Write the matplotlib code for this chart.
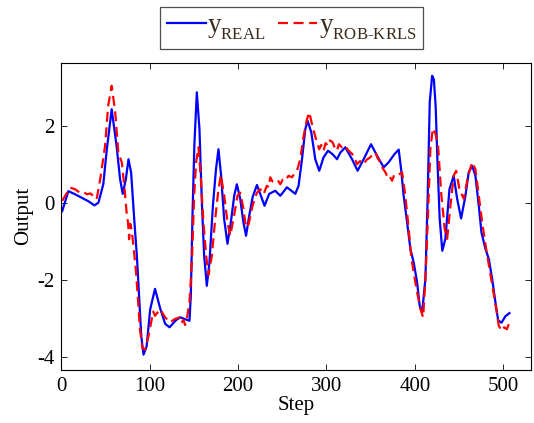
import matplotlib
matplotlib.use("Agg")
import matplotlib.pyplot as plt
import matplotlib._mathtext as _mt

plt.rcParams["font.family"] = ["Liberation Serif", "DejaVu Serif"]
plt.rcParams["mathtext.fontset"] = "custom"
plt.rcParams["mathtext.rm"] = "Liberation Serif"
plt.rcParams["mathtext.it"] = "Liberation Serif:italic"
plt.rcParams["axes.unicode_minus"] = False
# smaller, lower subscripts for the legend entries
_mt.SHRINK_FACTOR = 0.62
_mt.FontConstantsBase.sub1 = 0.55
_mt.FontConstantsBase.sub2 = 0.7

# Measured plant output
real_step = [1, 8, 15.5, 23, 30.5, 37.5, 42, 47.5, 51.5, 57, 62.5, 66.5, 69.5, 73,
             76, 79, 82.5, 85.5, 88, 90.5, 93, 96.5, 100.5, 106, 112, 117.5, 122.5,
             129, 134.5, 140, 145, 146.5, 148.5, 150.5, 153.3, 156.3, 159, 161.6,
             164.6, 167.6, 171.5, 175, 177.8, 180.8, 184.2, 188, 191.8, 195.6, 198.6,
             202.4, 206, 209, 212.5, 216.5, 221.3, 225, 229.9, 235.2, 242, 247.7,
             255.3, 264.7, 268.4, 272.3, 276, 278.6, 282.8, 287.3, 291.8, 296.7,
             301.7, 306.9, 311.9, 315.6, 321.3, 328.9, 335.2, 342, 350.4, 357.2,
             364.7, 370.3, 376.8, 381.7, 384.4, 387.3, 391.2, 394.9, 398.6, 402.5,
             405.4, 408.2, 411.9, 414.5, 416.8, 419.5, 421.5, 423.5, 425.5, 428,
             431, 434.5, 439.1, 443.9, 447.8, 452.3, 457.2, 460.9, 464.8, 468.5,
             472.3, 475.3, 479.8, 483.6, 487.4, 491.1, 494.2, 498, 502.5, 507]
real_val = [-0.22, 0.30, 0.22, 0.13, 0.04, -0.07, 0.0, 0.48, 1.39, 2.43, 1.48, 0.61,
            0.23, 0.61, 1.13, 0.78, -0.43, -1.39, -2.43, -3.48, -3.95, -3.74, -2.78,
            -2.24, -2.76, -3.15, -3.24, -3.07, -2.98, -3.03, -3.07, -2.42, -0.25,
            1.48, 2.87, 1.91, 0.01, -1.38, -2.16, -1.55, -0.08, 0.87, 1.39, 0.70,
            -0.42, -1.07, -0.51, 0.18, 0.48, 0.10, -0.51, -0.86, -0.35, 0.15, 0.46,
            0.23, -0.08, 0.23, 0.31, 0.18, 0.40, 0.23, 0.44, 1.13, 1.91, 2.13, 1.83,
            1.13, 0.83, 1.18, 1.35, 1.26, 1.13, 1.30, 1.44, 1.13, 0.83, 1.13, 1.52,
            1.22, 0.92, 1.05, 1.26, 1.38, 0.87, 0.18, -0.51, -1.20, -1.55, -2.07,
            -2.68, -2.85, -1.98, 0.18, 2.61, 3.30, 3.20, 2.50, 1.10, -0.40, -1.25,
            -0.94, 0.35, 0.70, 0.10, -0.41, 0.18, 0.79, 0.96, 0.70, -0.08, -0.77,
            -1.20, -1.46, -1.98, -2.59, -3.06, -3.12, -2.95, -2.87]

# ROB-KRLS estimate
rob_step = [1, 5, 10, 15.5, 21, 25, 29, 33, 36, 40, 44, 49.5, 53, 57, 61, 64.5, 68.5,
            72, 74, 75.5, 76.7, 78, 79.5, 81.5, 84.3, 86.5, 89, 91.7, 94.8, 98.5,
            104, 106, 111.8, 117.4, 123, 128.8, 134.4, 136, 138.2, 140, 142, 145,
            147.7, 150.3, 152.5, 155.2, 157.9, 160.8, 163.9, 166.5, 170.3, 174.1,
            177.8, 180.5, 184.3, 188, 191.1, 194.8, 199.3, 202.4, 206.1, 208, 210,
            212, 216.3, 221.3, 225.1, 228.8, 232.6, 234.5, 236.4, 239, 242, 245,
            247.7, 250.5, 253.4, 257, 260.9, 263.5, 266.6, 270.3, 274.1, 277.9,
            280.5, 283.6, 288.1, 291.8, 294, 296.7, 299, 301.7, 304, 306.9, 309,
            311.9, 314, 317.6, 321.3, 324, 327, 331, 334.5, 338, 342, 345.5, 349.6,
            352, 355.3, 358, 360.9, 363.5, 366.6, 368.5, 370.3, 374.2, 376.5, 379.8,
            385.5, 389.2, 393, 395.7, 398.6, 402.5, 406.2, 409.3, 411.9, 414.5,
            417.5, 420.2, 423.2, 426.2, 430, 433.7, 436.5, 440.2, 443.9, 446.7,
            450.4, 455.3, 460.2, 464.8, 468.5, 472.3, 476.1, 480.6, 484.4, 488.1,
            492, 494.9, 498, 501, 504, 507]
rob_val = [0.05, 0.20, 0.39, 0.35, 0.26, 0.28, 0.22, 0.24, 0.18, 0.09, 0.61, 1.47, 2.52,
           3.04, 2.35, 1.30, 1.04, 0.26, -0.30, -0.52, -0.95, -0.55, -0.70, -1.10,
           -1.74, -2.43, -3.30, -3.78, -3.82, -3.48, -2.83, -2.94, -2.77, -2.98,
           -3.11, -3.02, -2.98, -3.12, -3.05, -3.18, -3.02, -2.59, -1.55, 0.18, 1.05,
           1.44, 0.61, -0.51, -1.38, -1.88, -1.38, -0.42, 0.35, 0.72, 0.18, -0.51,
           -0.86, -0.42, 0.18, 0.26, -0.16, -0.51, -0.65, -0.55, -0.08, 0.26, 0.35,
           0.22, 0.44, 0.40, 0.66, 0.55, 0.53, 0.58, 0.48, 0.60, 0.57, 0.70, 0.66,
           0.75, 0.83, 1.13, 1.73, 2.17, 2.35, 2.04, 1.65, 1.39, 1.50, 1.35, 1.55,
           1.48, 1.62, 1.57, 1.45, 1.35, 1.52, 1.44, 1.48, 1.38, 1.31, 1.22, 1.00,
           1.08, 1.00, 1.12, 1.18, 1.25, 1.31, 1.15, 1.05, 0.90, 0.79, 0.70, 0.74,
           0.57, 0.72, 0.70, 0.79, 0.18, -0.68, -1.38, -1.81, -2.33, -2.76, -2.98,
           -1.98, -0.51, 1.39, 1.93, 1.80, 1.48, 0.18, -0.68, -0.94, -0.08, 0.70,
           0.83, 0.35, 0.10, 0.70, 1.05, 0.87, 0.18, -0.51, -1.20, -1.72, -2.24,
           -2.76, -3.20, -3.33, -3.24, -3.29, -3.12]

x_ticks = [0, 100, 200, 300, 400, 500]
y_ticks = [-4, -2, 0, 2]

fig = plt.figure(figsize=(5.34, 4.23), dpi=100)
ax = fig.add_axes([0.1148, 0.1253, 0.8790, 0.7265])

ln_real, = ax.plot(real_step, real_val, color="#0000ff", lw=1.6,
                   solid_joinstyle="round")
ln_rob, = ax.plot(rob_step, rob_val, color="#ff0000", lw=1.6,
                  linestyle=(0, (4.5, 2.5)))

ax.set_xlim(0, 531)
ax.set_ylim(-4.35, 3.64)
ax.set_xticks(x_ticks)
ax.set_yticks(y_ticks)
ax.tick_params(direction="in", top=True, right=True, length=4, width=0.6,
               labelsize=15, pad=5)
for sp in ax.spines.values():
    sp.set_linewidth(0.8)

ax.set_xlabel("Step", fontsize=15, labelpad=0)
ax.set_ylabel("Output", fontsize=15, labelpad=3)

leg = fig.legend([ln_real, ln_rob],
                 [r"$\mathrm{y}_{\mathrm{REAL}}$", r"$\mathrm{y}_{\mathrm{ROB\text{-}KRLS}}$"],
                 loc="center", bbox_to_anchor=(0.546, 0.934), ncol=2,
                 fontsize=19.5, frameon=True, fancybox=False, edgecolor="#222222",
                 handlelength=1.45, handletextpad=0.05, columnspacing=0.45,
                 borderpad=0.25, borderaxespad=0)
leg.get_frame().set_linewidth(0.9)
for t in leg.get_texts():
    t.set_color("#3b2b1d")

fig.savefig("out.png", dpi=100)
